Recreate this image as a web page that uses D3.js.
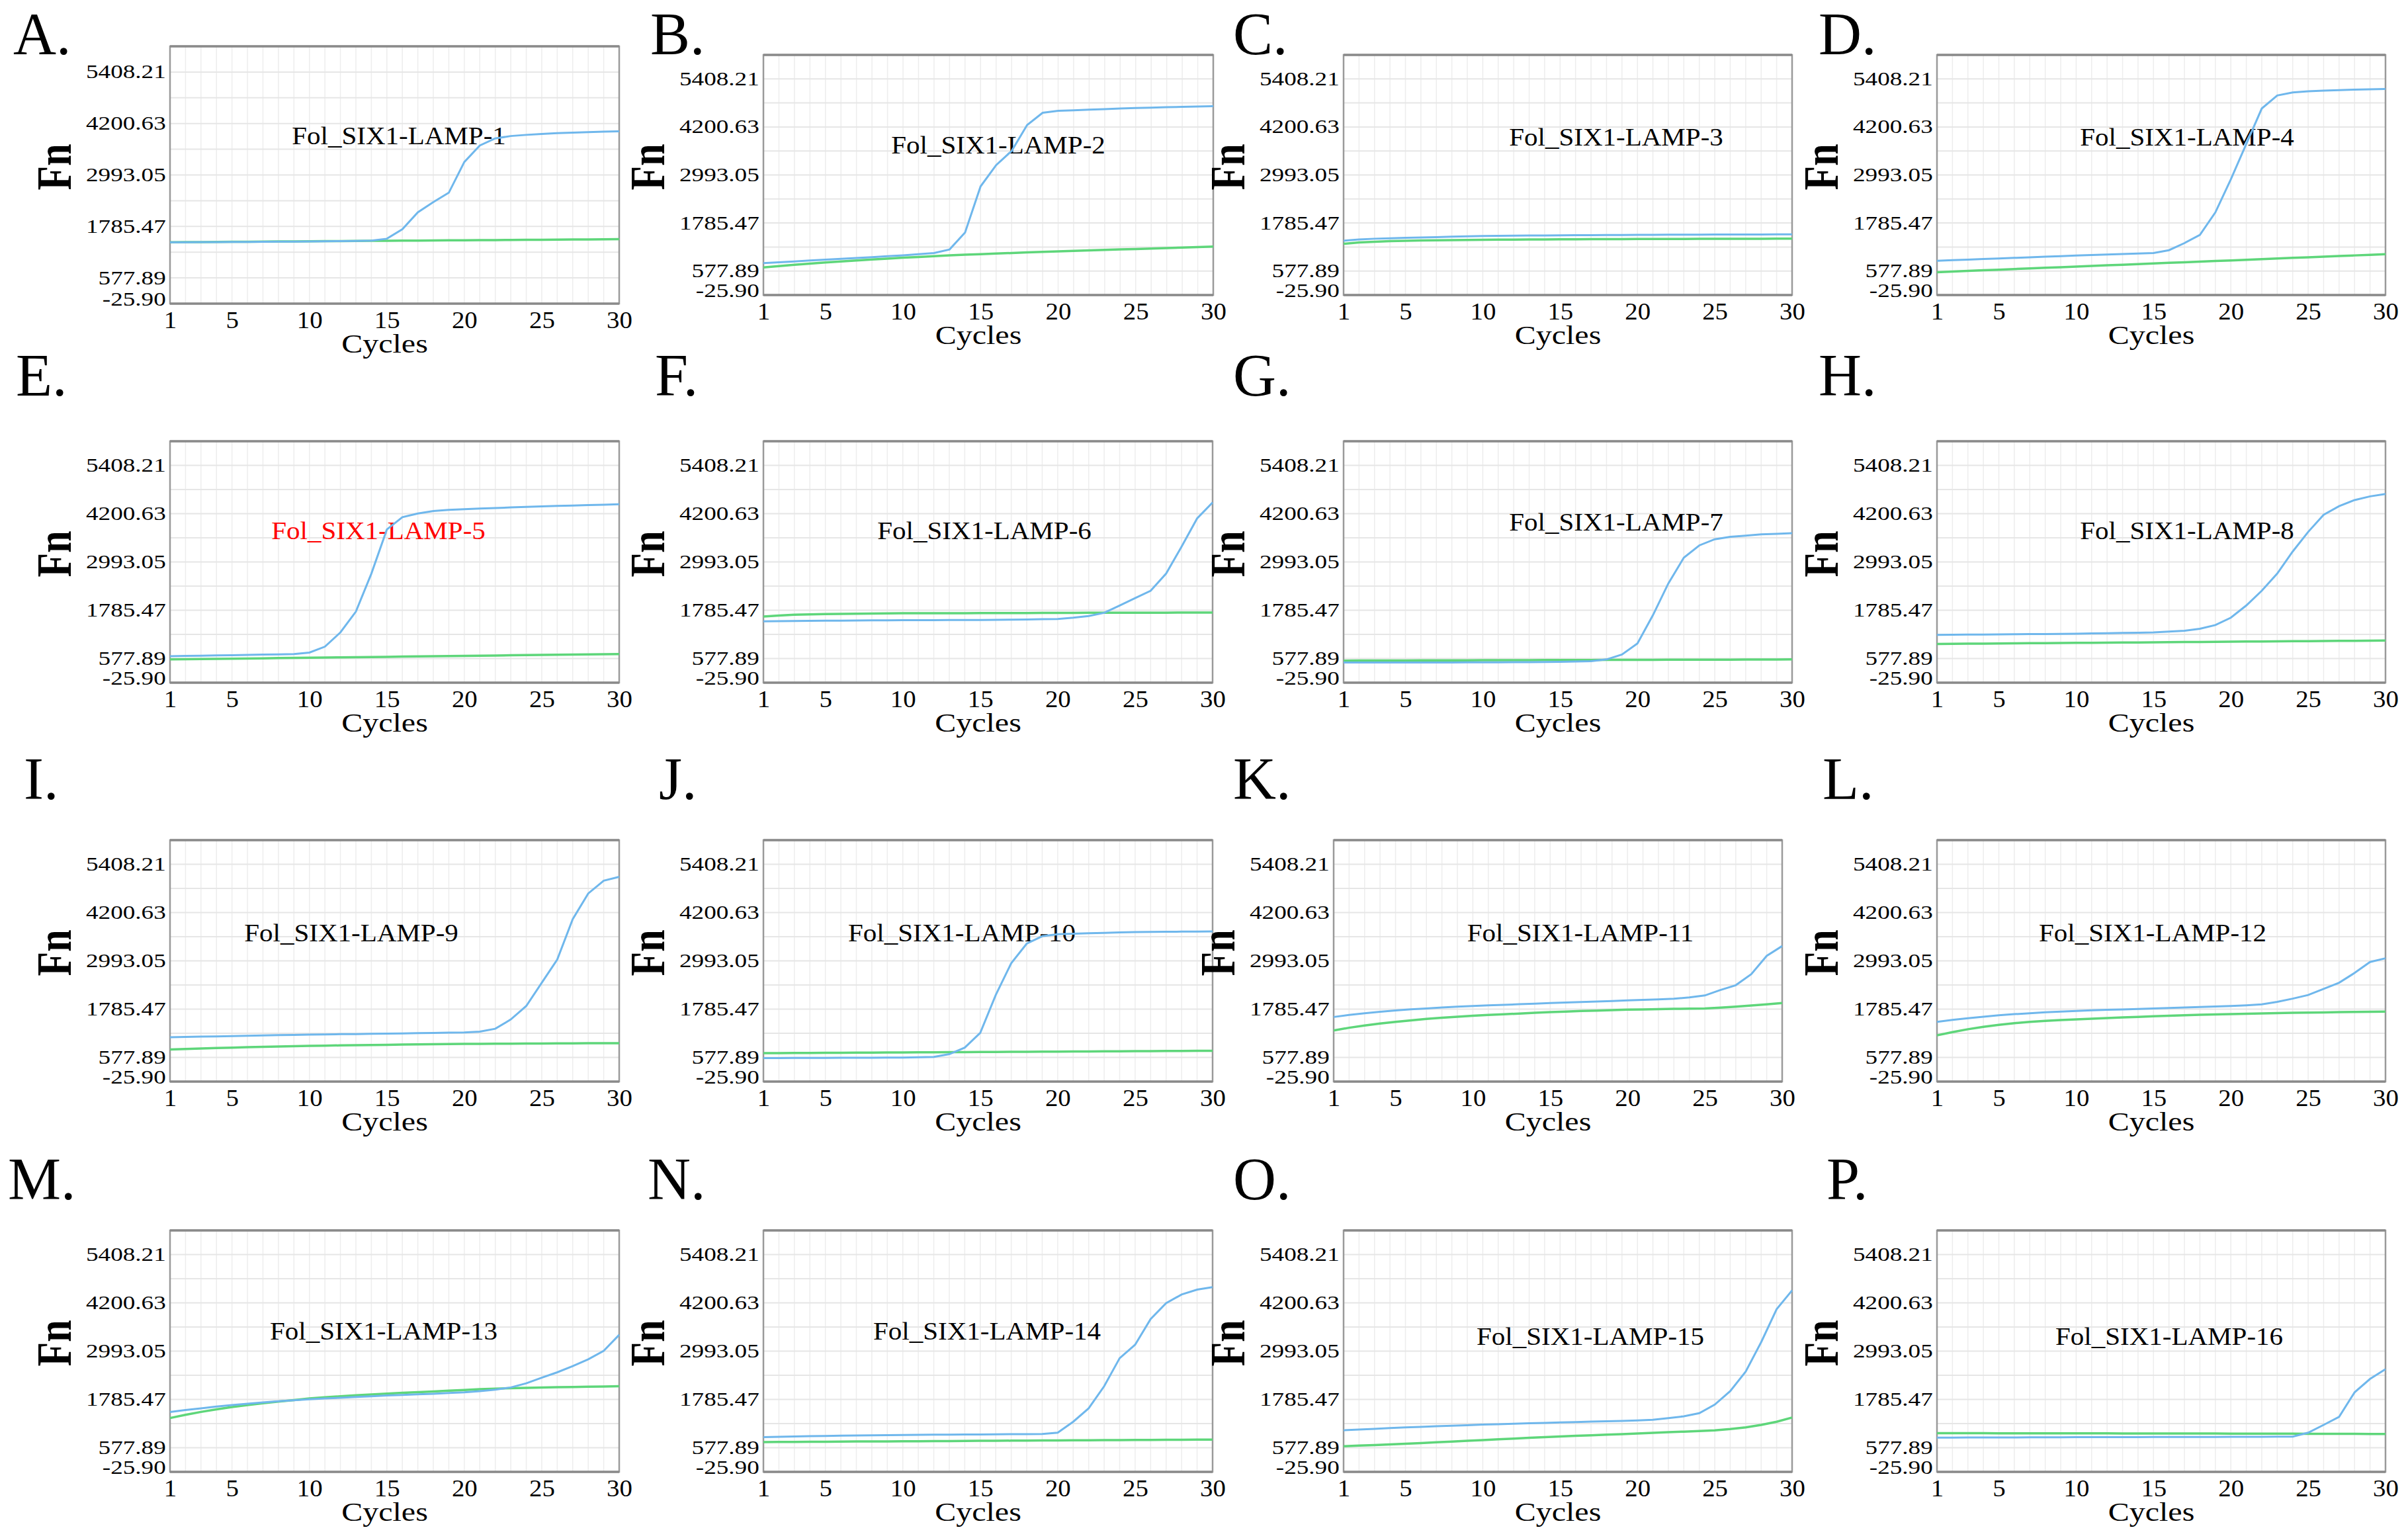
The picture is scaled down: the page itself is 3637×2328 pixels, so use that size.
<!DOCTYPE html>
<html>
<head>
<meta charset="utf-8">
<script src="https://cdn.jsdelivr.net/npm/d3@7"></script>
<style>
  html, body { margin: 0; padding: 0; background: #ffffff; }
  svg { display: block; }
</style>
</head>
<body>
<svg id="chart" width="3637" height="2328"></svg>
<script>
// ---------------- DATA ----------------
const cycles = [1,2,3,4,5,6,7,8,9,10,11,12,13,14,15,16,17,18,19,20,21,22,23,24,25,26,27,28,29,30];
const panelLetters = ["A.","B.","C.","D.","E.","F.","G.","H.","I.","J.","K.","L.","M.","N.","O.","P."];
const panelTitles = ["Fol_SIX1-LAMP-1","Fol_SIX1-LAMP-2","Fol_SIX1-LAMP-3","Fol_SIX1-LAMP-4",
  "Fol_SIX1-LAMP-5","Fol_SIX1-LAMP-6","Fol_SIX1-LAMP-7","Fol_SIX1-LAMP-8",
  "Fol_SIX1-LAMP-9","Fol_SIX1-LAMP-10","Fol_SIX1-LAMP-11","Fol_SIX1-LAMP-12",
  "Fol_SIX1-LAMP-13","Fol_SIX1-LAMP-14","Fol_SIX1-LAMP-15","Fol_SIX1-LAMP-16"];
const highlightedTitle = "Fol_SIX1-LAMP-5";
const yTickValues = [-25.90, 577.89, 1785.47, 2993.05, 4200.63, 5408.21];
const yTickLabels = ["-25.90","577.89","1785.47","2993.05","4200.63","5408.21"];
const yDomain = [-25.90, 6011.99];
const yGridStep = 603.79;
const xTickValues = [1,5,10,15,20,25,30];
const xLabel = "Cycles";
const yLabel = "Fn";

const blue1  = [1412,1414,1416,1418,1420,1422,1425,1428,1431,1434,1437,1440,1445,1452,1497,1719,2118,2356,2577,3297,3685,3851,3907,3934,3957,3973,3986,3998,4008,4018];
const green1 = [1414,1417,1419,1422,1424,1427,1429,1432,1434,1437,1439,1442,1444,1447,1449,1452,1454,1457,1459,1462,1464,1466,1468,1471,1473,1476,1478,1480,1483,1486];
const blue2  = [775,798,820,843,865,886,907,928,950,971,1000,1031,1120,1547,2705,3239,3596,4249,4557,4605,4620,4635,4650,4664,4676,4686,4696,4706,4715,4724];
const green2 = [669,702,734,764,793,819,844,868,890,912,932,952,971,987,1002,1017,1031,1045,1059,1072,1085,1097,1109,1121,1132,1144,1156,1168,1180,1191];
const blue3  = [1340,1370,1390,1402,1411,1420,1430,1440,1450,1458,1462,1466,1470,1473,1476,1478,1481,1483,1485,1488,1489,1490,1492,1493,1494,1495,1496,1497,1499,1500];
const green3 = [1262,1298,1315,1330,1340,1345,1350,1355,1359,1363,1366,1368,1371,1373,1375,1377,1378,1380,1381,1382,1383,1384,1385,1386,1387,1388,1389,1390,1392,1393];
const blue4  = [835,850,865,880,894,908,923,937,952,966,979,992,1005,1018,1031,1102,1280,1488,2052,2883,3774,4664,4991,5068,5098,5115,5128,5139,5149,5157];
const green4 = [550,566,581,597,612,628,643,659,674,690,706,721,737,752,768,783,799,814,830,845,861,877,892,908,923,939,954,970,985,1001];
const blue5  = [636,642,648,655,661,668,676,683,691,728,875,1231,1752,2702,3805,4112,4204,4265,4295,4314,4328,4342,4356,4369,4382,4393,4404,4415,4426,4437];
const green5 = [556,561,565,570,575,579,584,589,593,598,603,607,612,617,621,626,631,635,640,645,649,654,659,663,668,673,677,682,687,691];
const blue6  = [1507,1512,1516,1521,1525,1527,1530,1532,1535,1537,1538,1539,1540,1542,1543,1546,1550,1555,1561,1568,1598,1641,1721,1905,2089,2273,2702,3376,4081,4480];
const green6 = [1629,1652,1672,1682,1690,1694,1698,1702,1706,1709,1710,1711,1712,1713,1714,1715,1716,1717,1719,1721,1721,1722,1722,1723,1724,1724,1725,1726,1726,1727];
const blue7  = [477,477,477,478,478,479,479,480,481,483,484,486,488,491,495,502,513,556,679,955,1660,2457,3100,3407,3560,3621,3652,3683,3698,3713];
const green7 = [526,527,528,529,530,531,532,533,534,535,536,537,538,539,540,541,542,543,544,545,546,547,548,549,550,551,552,553,554,556];
const blue8  = [1170,1173,1176,1179,1182,1185,1189,1192,1196,1200,1206,1212,1218,1224,1231,1250,1274,1323,1415,1599,1905,2273,2702,3254,3744,4173,4388,4541,4633,4694];
const green8 = [943,946,949,952,955,958,961,964,966,969,972,975,978,981,984,987,990,993,996,999,1002,1005,1008,1011,1013,1016,1019,1022,1025,1028];
const blue9  = [1081,1089,1097,1105,1112,1120,1127,1135,1142,1149,1154,1159,1163,1168,1173,1179,1185,1191,1198,1204,1222,1295,1528,1864,2446,3026,4036,4678,4996,5094];
const green9 = [775,788,800,812,823,833,843,852,860,867,873,879,884,889,894,899,903,907,912,916,918,920,922,924,926,928,930,932,934,935];
const blue10  = [561,562,564,565,567,568,570,571,573,574,580,592,659,824,1191,2140,2935,3424,3608,3657,3670,3682,3693,3703,3712,3716,3720,3724,3727,3730];
const green10 = [684,686,688,690,692,695,697,699,701,703,705,707,709,711,713,716,718,720,722,724,726,728,730,732,734,737,739,741,743,745];
const blue11  = [1589,1640,1681,1720,1754,1780,1804,1826,1846,1864,1880,1894,1908,1922,1938,1950,1963,1975,1990,2005,2017,2029,2048,2078,2127,2262,2384,2660,3118,3363];
const green11 = [1253,1320,1375,1425,1467,1505,1540,1570,1597,1620,1640,1658,1675,1694,1711,1725,1738,1750,1762,1772,1779,1786,1792,1798,1803,1821,1846,1877,1907,1938];
const blue12  = [1467,1515,1558,1597,1632,1660,1684,1705,1724,1742,1755,1767,1779,1791,1803,1815,1828,1840,1852,1864,1882,1907,1968,2048,2139,2292,2445,2690,2965,3057];
const green12 = [1130,1212,1283,1343,1393,1434,1466,1492,1512,1528,1546,1562,1577,1592,1607,1620,1632,1643,1653,1662,1670,1678,1686,1693,1699,1704,1709,1714,1719,1723];
const blue13  = [1473,1520,1564,1606,1644,1678,1710,1739,1766,1791,1810,1828,1846,1865,1883,1897,1912,1928,1945,1962,1993,2030,2085,2188,2329,2464,2617,2788,3002,3400];
const green13 = [1320,1400,1473,1538,1595,1645,1690,1731,1770,1809,1838,1865,1889,1911,1932,1951,1969,1985,2005,2023,2040,2054,2066,2076,2085,2091,2097,2103,2109,2115];
const blue14  = [843,851,858,866,873,879,884,889,894,898,900,903,905,908,910,913,916,919,922,953,1228,1564,2115,2818,3155,3797,4195,4409,4531,4592];
const green14 = [720,722,724,726,728,731,733,735,737,739,741,743,745,747,750,752,754,756,758,760,762,764,767,769,771,773,775,777,779,781];
const blue15  = [1014,1033,1051,1069,1087,1101,1115,1128,1142,1155,1166,1177,1188,1199,1210,1220,1230,1240,1249,1259,1277,1320,1363,1442,1656,1993,2483,3217,4042,4513];
const green15 = [616,631,646,661,677,695,714,732,751,769,787,806,824,843,861,876,890,905,919,934,950,965,981,997,1014,1045,1087,1149,1228,1332];
const blue16  = [831,832,833,834,835,836,837,838,840,841,842,843,843,844,845,846,846,847,848,849,850,851,853,855,953,1149,1350,1962,2298,2543];
const green16 = [941,941,940,940,939,939,938,938,937,937,936,936,935,935,934,933,933,932,932,931,930,929,929,928,927,926,925,924,923,922];

const blueSeries  = [blue1,blue2,blue3,blue4,blue5,blue6,blue7,blue8,blue9,blue10,blue11,blue12,blue13,blue14,blue15,blue16];
const greenSeries = [green1,green2,green3,green4,green5,green6,green7,green8,green9,green10,green11,green12,green13,green14,green15,green16];

// ---------------- LAYOUT (pixels) ----------------
// plot rectangle [x0,y0,x1,y1], letter anchor [x, baseline], title anchor [centre x, baseline]
const layout = [
  {plot:[257,70,936,459],    letter:[20,82],     title:[603,218]},
  {plot:[1154,83,1834,446],  letter:[983,82],    title:[1509,232]},
  {plot:[2031,83,2709,446],  letter:[1864,82],   title:[2443,220]},
  {plot:[2928,83,3606,446],  letter:[2749,82],   title:[3306,220]},
  {plot:[257,667,936,1032],  letter:[24,598],    title:[572,815]},
  {plot:[1154,667,1833,1032],letter:[990,598],   title:[1488,815]},
  {plot:[2031,667,2709,1032],letter:[1864,598],  title:[2443,802]},
  {plot:[2928,667,3606,1032],letter:[2749,598],  title:[3306,815]},
  {plot:[257,1270,936,1635], letter:[36,1208],   title:[531,1423]},
  {plot:[1154,1270,1833,1635],letter:[996,1208], title:[1454,1423]},
  {plot:[2016,1270,2694,1635],letter:[1864,1208],title:[2389,1423]},
  {plot:[2928,1270,3606,1635],letter:[2755,1208],title:[3254,1423]},
  {plot:[257,1860,936,2225], letter:[12,1813],   title:[580,2025]},
  {plot:[1154,1860,1833,2225],letter:[979,1813], title:[1492,2025]},
  {plot:[2031,1860,2709,2225],letter:[1864,1813],title:[2404,2033]},
  {plot:[2928,1860,3606,2225],letter:[2761,1813],title:[3279,2033]}
];

const FONT = "'Liberation Serif','Times New Roman',Times,serif";
const BLUE = "#6fb7ec";
const GREEN = "#5ed67a";

const svg = d3.select("#chart");
svg.append("rect").attr("width",3637).attr("height",2328).attr("fill","#ffffff");

const gridValues = d3.range(0, 11).map(k => yDomain[0] + k * yGridStep);

layout.forEach((L, i) => {
  const [x0, y0, x1, y1] = L.plot;
  const x = d3.scaleLinear().domain([1, 30]).range([x0, x1]);
  const y = d3.scaleLinear().domain(yDomain).range([y1, y0]);
  const g = svg.append("g");

  // panel letter
  g.append("text")
    .attr("x", L.letter[0]).attr("y", L.letter[1])
    .attr("font-family", FONT).attr("font-size", 90).attr("fill", "#000")
    .text(panelLetters[i]);

  // grid
  g.append("g").selectAll("line.v").data(cycles).join("line")
    .attr("x1", d => x(d)).attr("x2", d => x(d))
    .attr("y1", y0).attr("y2", y1)
    .attr("stroke", "#ededed").attr("stroke-width", 1.5);
  g.append("g").selectAll("line.h").data(gridValues).join("line")
    .attr("x1", x0).attr("x2", x1)
    .attr("y1", d => y(d)).attr("y2", d => y(d))
    .attr("stroke", "#e6e6e6").attr("stroke-width", 2);

  // frame
  g.append("rect").attr("x", x0).attr("y", y0).attr("width", x1 - x0).attr("height", y1 - y0)
    .attr("fill", "none").attr("stroke", "#9a9a9a").attr("stroke-width", 2.5);
  g.append("line").attr("x1", x0).attr("x2", x1).attr("y1", y0).attr("y2", y0)
    .attr("stroke", "#8a8a8a").attr("stroke-width", 3.5);
  g.append("line").attr("x1", x0).attr("x2", x1).attr("y1", y1).attr("y2", y1)
    .attr("stroke", "#8a8a8a").attr("stroke-width", 3.5);

  // title
  g.append("text")
    .attr("transform", `translate(${L.title[0]},${L.title[1]}) scale(1.08,1)`)
    .attr("text-anchor", "middle")
    .attr("font-family", FONT).attr("font-size", 38)
    .attr("fill", panelTitles[i] === highlightedTitle ? "#ff0000" : "#000")
    .text(panelTitles[i]);

  // lines
  const line = d3.line().x((d, k) => x(cycles[k])).y(d => y(d));
  g.append("path").datum(greenSeries[i]).attr("d", line)
    .attr("fill", "none").attr("stroke", GREEN).attr("stroke-width", 3.5);
  g.append("path").datum(blueSeries[i]).attr("d", line)
    .attr("fill", "none").attr("stroke", BLUE).attr("stroke-width", 3);

  // x axis
  const xa = g.append("g").attr("transform", `translate(0,${y1})`)
    .call(d3.axisBottom(x).tickValues(xTickValues).tickSize(0).tickPadding(0).tickFormat(d3.format("d")));
  xa.select(".domain").remove();
  xa.selectAll("text")
    .attr("y", 37).attr("dy", null)
    .attr("transform", "scale(1.08,1)")
    .attr("font-family", FONT).attr("font-size", 36).attr("fill", "#000");

  // y axis
  const ya = g.append("g").attr("transform", `translate(${x0},0)`)
    .call(d3.axisLeft(y).tickValues(yTickValues).tickSize(0).tickPadding(0)
      .tickFormat((d, k) => yTickLabels[k]));
  ya.select(".domain").remove();
  ya.selectAll("text")
    .attr("x", -5)
    .attr("dy", (d, k) => k === 0 ? "0.08em" : "0.30em")
    .attr("transform", "scale(1.24,1)")
    .attr("font-family", FONT).attr("font-size", 30).attr("fill", "#000");

  // axis titles
  g.append("text")
    .attr("transform", `translate(${(x0 + x1) / 2 - 15},${y1 + 74}) scale(1.2,1)`)
    .attr("text-anchor", "middle")
    .attr("font-family", FONT).attr("font-size", 40).attr("fill", "#000")
    .text(xLabel);
  g.append("text")
    .attr("transform", `translate(${x0 - 150},${(y0 + y1) / 2 - 12}) rotate(-90) scale(1,1.25)`)
    .attr("text-anchor", "middle")
    .attr("font-family", FONT).attr("font-size", 60).attr("font-weight", "bold").attr("fill", "#000")
    .text(yLabel);
});
</script>
</body>
</html>
